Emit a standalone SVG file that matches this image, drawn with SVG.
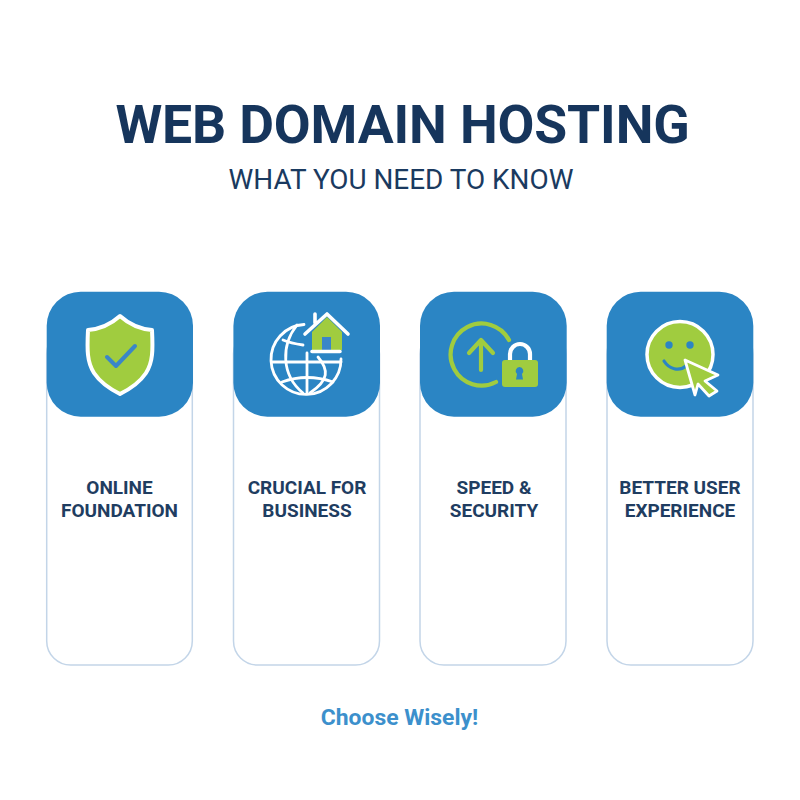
<svg xmlns="http://www.w3.org/2000/svg" width="800" height="800" viewBox="0 0 800 800">
<style>
text{font-family:Roboto,"Liberation Sans",sans-serif;text-anchor:middle}
.title{font-size:53.500px;font-weight:700;fill:#16355c;letter-spacing:-0.130px}
.sub{font-size:27.900px;fill:#1a3a60}
.lab{font-size:19px;font-weight:700;fill:#1f3d61}
.foot{font-size:22.900px;font-weight:700;fill:#3c90cc}
.card{fill:#fff;stroke:#c3d5e8;stroke-width:1.500}
.tile{fill:#2b85c4}
.g{fill:#a0cc3f}
.w{fill:none;stroke:#fff;stroke-linecap:round;stroke-linejoin:round}
</style>
<rect width="800" height="800" fill="#fff"/>
<text class="title" x="402.500" y="143">WEB DOMAIN HOSTING</text>
<text class="sub" x="401" y="189">WHAT YOU NEED TO KNOW</text>
<g id="card1">
<rect class="card" x="46.700" y="330" width="145.600" height="335" rx="24"/>
<rect class="tile" x="46.700" y="291.700" width="146.300" height="125" rx="34"/>
<path class="g" stroke="#fff" stroke-width="4" stroke-linejoin="round" d="M120 316C110 325 100 329 88 330C87 350 87 362 94 373C100 382 110 389 120 394C130 389 140 382 146 373C153 362 153 350 152 330C140 329 130 325 120 316Z"/>
<path d="M107 357L116 366L135 346" fill="none" stroke="#3a86c8" stroke-width="4" stroke-linecap="round" stroke-linejoin="round"/>
<text class="lab" x="119.500" y="494">ONLINE</text>
<text class="lab" x="119.500" y="516.500">FOUNDATION</text>
</g>
<g id="card2">
<rect class="card" x="233.500" y="330" width="146" height="335" rx="24"/>
<rect class="tile" x="233.400" y="291.700" width="146.600" height="125" rx="34"/>
<g class="w" stroke-width="2.800">
<path d="M304 324.500A35 35 0 1 0 341 359"/>
<path d="M297 325C281 345 281 375 303 393"/>
<path d="M318 357C329 370 329 380 310 393"/>
<path d="M272 362H341M283 340C290 343 296 344 303 345M282 382Q307 373 333 382"/>
<path d="M307 353V393"/>
</g>
<path class="g" d="M312 332L327 317L342 332V350H312Z"/>
<path d="M322 337H331V350H322Z" fill="#3a86c8"/>
<path class="w" stroke-width="3.600" d="M305 334L327 314L348 334M315 323V314M312 351.500H340"/>
<text class="lab" x="307" y="494">CRUCIAL FOR</text>
<text class="lab" x="307" y="516.500">BUSINESS</text>
</g>
<g id="card3">
<rect class="card" x="420" y="330" width="146" height="335" rx="24"/>
<rect class="tile" x="420" y="291.700" width="146.700" height="125" rx="34"/>
<path d="M509 340A31 31 0 1 0 496 382" fill="none" stroke="#a0cc3f" stroke-width="4.200" stroke-linecap="round"/>
<path d="M481 370V340M469 353L481 340L493 353" fill="none" stroke="#a0cc3f" stroke-width="4.200" stroke-linecap="round" stroke-linejoin="round"/>
<path d="M510 361V354A10 10 0 0 1 530 354V361" fill="none" stroke="#fff" stroke-width="4.200"/>
<rect class="g" x="502" y="360" width="36" height="27" rx="3"/>
<path d="M519.500 367a4 4 0 0 1 2.500 7l1 5.500h-7l1-5.500a4 4 0 0 1 2.500-7Z" fill="#2b85c4"/>
<text class="lab" x="494" y="494">SPEED &amp;</text>
<text class="lab" x="494" y="516.500">SECURITY</text>
</g>
<g id="card4">
<rect class="card" x="607" y="330" width="146" height="335" rx="24"/>
<rect class="tile" x="606.700" y="291.700" width="146.600" height="125" rx="34"/>
<circle class="g" cx="680" cy="354.500" r="33" stroke="#fff" stroke-width="3.500"/>
<circle cx="669" cy="345" r="3.700" fill="#2b85c4"/>
<circle cx="690" cy="345" r="3.700" fill="#2b85c4"/>
<path d="M664 361C669 369 679 372 686 366" fill="none" stroke="#2b85c4" stroke-width="3.200" stroke-linecap="round"/>
<path class="g" stroke="#fff" stroke-width="2.800" stroke-linejoin="round" d="M685 360L718 375L705 381L717 391L709 396L698 384L695 395Z"/>
<text class="lab" x="680" y="494">BETTER USER</text>
<text class="lab" x="680" y="516.500">EXPERIENCE</text>
</g>
<text class="foot" x="399.500" y="725">Choose Wisely!</text>
</svg>
